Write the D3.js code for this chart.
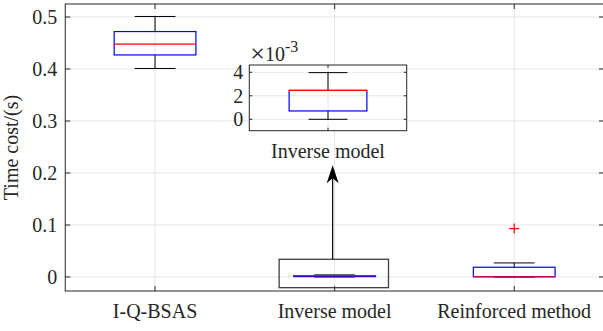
<!DOCTYPE html>
<html><head><meta charset="utf-8">
<script src="https://cdn.jsdelivr.net/npm/d3@7"></script>
<style>body{margin:0;background:#fff}svg{display:block}text{font-family:"Liberation Serif","Times New Roman",serif;fill:#262626}</style>
</head><body><svg id="c" width="603" height="331"></svg>
<script>
// ---- data ----
const categories = ["I-Q-BSAS", "Inverse model", "Reinforced method"];
const q1      = [0.427, 0.00071, 0.0003];
const median  = [0.448, 0.00245, 0.0004];
const q3      = [0.472, 0.00247, 0.0187];
const whiskLo = [0.401, 0.0, 0.0];
const whiskHi = [0.501, 0.00397, 0.027];
const outliers = [[], [], [0.093]];
const yTicks = [0, 0.1, 0.2, 0.3, 0.4, 0.5];
const insetTicks = [0, 2, 4];           // ×10^-3
const insetCategory = ["Inverse model"];
const zoomRect = {x0: 1.691, x1: 2.30, y0: -0.0206, y1: 0.034};
const arrowFrom = {x: 1.989, y: 0.034}, arrowTo = {x: 1.989, y: 0.215};

// ---- layout ----
const W = 603, H = 331;
const M = {left: 65.25, right: 604, top: 4, bottom: 291};
const INS = {left: 249.3, right: 406.7, top: 65, bottom: 130.7};
const axisCol = "#262626", gridCol = "#e6e6e6", fs = 20, tickLen = 5;

const svg = d3.select("#c");
const x = d3.scaleLinear().domain([0.5, 3.5]).range([M.left, M.right]);
const y = d3.scaleLinear().domain([-0.027, 0.525]).range([M.bottom, M.top]);

const g = svg.append("g");
// grid
g.selectAll(".gy").data(yTicks).join("line")
  .attr("x1", M.left).attr("x2", M.right).attr("y1", d => y(d)).attr("y2", d => y(d))
  .attr("stroke", gridCol).attr("stroke-width", 1);
g.selectAll(".gx").data(categories).join("line")
  .attr("x1", (d,i) => x(i+1)).attr("x2", (d,i) => x(i+1)).attr("y1", M.top).attr("y2", M.bottom)
  .attr("stroke", gridCol).attr("stroke-width", 1);

function drawBox(gg, xs, ys, i, cx, bw, vals) {
  const [lo, a, m, b, hi] = vals;
  const bx0 = xs(cx - bw/2), bx1 = xs(cx + bw/2);
  const cx0 = xs(cx - bw/4), cx1 = xs(cx + bw/4);
  const X = xs(cx);
  gg.append("line").attr("x1", X).attr("x2", X).attr("y1", ys(b)).attr("y2", ys(hi)).attr("stroke", "#000").attr("stroke-width", 1);
  gg.append("line").attr("x1", X).attr("x2", X).attr("y1", ys(a)).attr("y2", ys(lo)).attr("stroke", "#000").attr("stroke-width", 1);
  gg.append("line").attr("x1", cx0).attr("x2", cx1).attr("y1", ys(hi)).attr("y2", ys(hi)).attr("stroke", "#000").attr("stroke-width", 1);
  gg.append("line").attr("x1", cx0).attr("x2", cx1).attr("y1", ys(lo)).attr("y2", ys(lo)).attr("stroke", "#000").attr("stroke-width", 1);
  gg.append("rect").attr("x", bx0).attr("width", bx1 - bx0).attr("y", ys(b)).attr("height", Math.max(0.01, ys(a) - ys(b)))
    .attr("fill", "none").attr("stroke", "#0000ff").attr("stroke-width", 1.2);
  gg.append("line").attr("x1", bx0).attr("x2", bx1).attr("y1", ys(m)).attr("y2", ys(m)).attr("stroke", "#ff0000").attr("stroke-width", 1.2);
}

categories.forEach((c, i) => {
  drawBox(g, x, y, i, i+1, 0.455, [whiskLo[i], q1[i], median[i], q3[i], whiskHi[i]]);
  outliers[i].forEach(o => {
    const X = x(i+1), Y = y(o);
    g.append("path").attr("d", `M${X-5},${Y}H${X+5}M${X},${Y-5}V${Y+5}`).attr("stroke", "#ff0000").attr("stroke-width", 1.2);
  });
});

// axes frame and ticks
g.append("rect").attr("x", M.left).attr("y", M.top).attr("width", M.right - M.left).attr("height", M.bottom - M.top)
  .attr("fill", "none").attr("stroke", axisCol).attr("stroke-width", 1);
yTicks.forEach(t => {
  g.append("line").attr("x1", M.left).attr("x2", M.left + tickLen).attr("y1", y(t)).attr("y2", y(t)).attr("stroke", axisCol);
  g.append("line").attr("x1", M.right - tickLen).attr("x2", M.right).attr("y1", y(t)).attr("y2", y(t)).attr("stroke", axisCol);
  g.append("text").attr("x", M.left - 8).attr("y", y(t)).attr("dy", "0.35em").attr("text-anchor", "end")
    .attr("font-size", fs).text(t === 0 ? "0" : d3.format(".1f")(t));
});
categories.forEach((c, i) => {
  const X = x(i+1);
  g.append("line").attr("x1", X).attr("x2", X).attr("y1", M.bottom).attr("y2", M.bottom - tickLen).attr("stroke", axisCol);
  g.append("line").attr("x1", X).attr("x2", X).attr("y1", M.top).attr("y2", M.top + tickLen).attr("stroke", axisCol);
  g.append("text").attr("x", X).attr("y", 318).attr("text-anchor", "middle").attr("font-size", fs).text(c);
});
g.append("text").attr("transform", `translate(18,${(M.top + M.bottom)/2}) rotate(-90)`)
  .attr("text-anchor", "middle").attr("font-size", fs).text("Time cost/(s)");

// zoom rectangle + arrow
g.append("rect").attr("x", x(zoomRect.x0)).attr("y", y(zoomRect.y1))
  .attr("width", x(zoomRect.x1) - x(zoomRect.x0)).attr("height", y(zoomRect.y0) - y(zoomRect.y1))
  .attr("fill", "none").attr("stroke", "#404040").attr("stroke-width", 1.3);
const ax = x(arrowFrom.x), ay0 = y(arrowFrom.y), ay1 = y(arrowTo.y);
g.append("line").attr("x1", ax).attr("x2", ax).attr("y1", ay0).attr("y2", ay1 + 12).attr("stroke", "#000").attr("stroke-width", 1.2);
g.append("path").attr("d", `M${ax},${ay1}L${ax+6},${ay1+18}L${ax},${ay1+13}L${ax-6},${ay1+18}Z`).attr("fill", "#000");

// inset
const xi = d3.scaleLinear().domain([0.5, 1.5]).range([INS.left, INS.right]);
const yi = d3.scaleLinear().domain([-0.97, 4.62]).range([INS.bottom, INS.top]);
const gi = svg.append("g");
gi.append("rect").attr("x", INS.left).attr("y", INS.top).attr("width", INS.right - INS.left).attr("height", INS.bottom - INS.top).attr("fill", "#fff");
insetTicks.forEach(t => gi.append("line").attr("x1", INS.left).attr("x2", INS.right).attr("y1", yi(t)).attr("y2", yi(t)).attr("stroke", gridCol));
gi.append("line").attr("x1", xi(1)).attr("x2", xi(1)).attr("y1", INS.top).attr("y2", INS.bottom).attr("stroke", gridCol);
drawBox(gi, xi, yi, 0, 1, 0.494, [whiskLo[1]*1e3, q1[1]*1e3, median[1]*1e3, q3[1]*1e3, whiskHi[1]*1e3]);
gi.append("rect").attr("x", INS.left).attr("y", INS.top).attr("width", INS.right - INS.left).attr("height", INS.bottom - INS.top)
  .attr("fill", "none").attr("stroke", axisCol).attr("stroke-width", 1);
insetTicks.forEach(t => {
  gi.append("line").attr("x1", INS.left).attr("x2", INS.left + 3).attr("y1", yi(t)).attr("y2", yi(t)).attr("stroke", axisCol);
  gi.append("line").attr("x1", INS.right - 3).attr("x2", INS.right).attr("y1", yi(t)).attr("y2", yi(t)).attr("stroke", axisCol);
  gi.append("text").attr("x", INS.left - 6).attr("y", yi(t)).attr("dy", "0.35em").attr("text-anchor", "end").attr("font-size", fs).text(t);
});
gi.append("line").attr("x1", xi(1)).attr("x2", xi(1)).attr("y1", INS.bottom).attr("y2", INS.bottom - 3).attr("stroke", axisCol);
gi.append("line").attr("x1", xi(1)).attr("x2", xi(1)).attr("y1", INS.top).attr("y2", INS.top + 3).attr("stroke", axisCol);
gi.append("text").attr("x", xi(1)).attr("y", 158).attr("text-anchor", "middle").attr("font-size", fs).text(insetCategory[0]);
const ex = gi.append("text").attr("x", INS.left + 1).attr("y", 61).attr("font-size", fs);
ex.append("tspan").attr("font-size", 26).attr("dy", 1).text("×");
ex.append("tspan").attr("dy", -1).attr("font-size", fs).text("10");
ex.append("tspan").attr("dy", -9).attr("font-size", 16).text("-3");
</script></body></html>
